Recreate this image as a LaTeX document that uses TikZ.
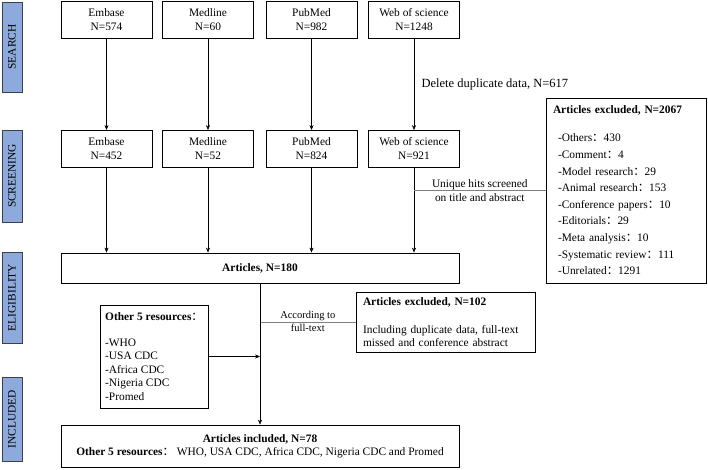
\documentclass[tikz,border=0pt]{standalone}
\usepackage{fontspec}
\setmainfont{Liberation Serif}
\newfontfamily\cjk{Noto Sans CJK SC}
\usetikzlibrary{arrows.meta}
\usetikzlibrary{positioning}
\definecolor{stagefill}{HTML}{8EA9DB}
\definecolor{stageline}{HTML}{3A3F4A}
\newcommand{\fc}{{\cjk ：}}

\begin{document}
\begin{tikzpicture}[
    x=1pt, y=-1pt,
    font=\fontsize{11.4}{14}\selectfont,
    srcbox/.style={draw, thick, minimum width=91pt, minimum height=37pt, inner sep=0pt, align=center},
    stage/.style={draw=stageline, thick, fill=stagefill, minimum height=20pt, inner sep=0pt, rotate=90},
    wide/.style={draw, thick, minimum width=398pt, inner sep=0pt, align=center},
    listbox/.style={draw, thick, inner xsep=7pt, inner ysep=0pt, align=left},
    side/.style={draw=gray, thin},
    >={Stealth[length=5pt, width=4pt]}
]
\useasboundingbox (0,0) rectangle (708,470);

% --- Stage bars ---
\node[stage, minimum width=90pt] (sS) at (12,47) {SEARCH};
\node[stage, minimum width=92pt] (sC) at (12,176) {SCREENING};
\node[stage, minimum width=91pt] (sE) at (12,297.5) {ELIGIBILITY};
\node[stage, minimum width=84pt] (sI) at (12,419) {INCLUDED};

% --- Search boxes ---
\node[srcbox] (a1) at (106.5,20) {Embase\\N=574};
\node[srcbox] (b1) at (208,20) {Medline\\N=60};
\node[srcbox] (c1) at (311.5,20) {PubMed\\N=982};
\node[srcbox] (d1) at (414,20) {Web of science\\N=1248};

% --- Screening boxes ---
\node[srcbox] (a2) at (106.5,149) {Embase\\N=452};
\node[srcbox] (b2) at (208,149) {Medline\\N=52};
\node[srcbox] (c2) at (311.5,149) {PubMed\\N=824};
\node[srcbox] (d2) at (414,149) {Web of science\\N=921};

% --- Eligibility and included ---
\node[wide, minimum height=30pt] (art) at (260,268) {\textbf{Articles, N=180}};
\node[wide, minimum height=42pt] (inc) at (260,446)
    {\textbf{Articles included, N=78}\\[-1pt]
     \textbf{Other 5 resources}\fc{} WHO, USA CDC, Africa CDC, Nigeria CDC and Promed};

% --- Excluded boxes ---
\node[listbox, minimum width=160pt, minimum height=185pt, text width=146pt] (exA) at (626,190.5)
    {\textbf{Articles excluded, N=2067}\\[14pt]
     \hspace*{5pt}-Others\fc 430\\[2.6pt]
     \hspace*{5pt}-Comment\fc 4\\[2.6pt]
     \hspace*{5pt}-Model research\fc 29\\[2.6pt]
     \hspace*{5pt}-Animal research\fc 153\\[2.6pt]
     \hspace*{5pt}-Conference papers\fc 10\\[2.6pt]
     \hspace*{5pt}-Editorials\fc 29\\[2.6pt]
     \hspace*{5pt}-Meta analysis\fc 10\\[2.6pt]
     \hspace*{5pt}-Systematic review\fc 111\\[2.6pt]
     \hspace*{5pt}-Unrelated\fc 1291};
\node[listbox, minimum width=179pt, minimum height=60pt, text width=165pt] (exB) at (445.5,322)
    {\textbf{Articles excluded, N=102}\\[14pt]
     Including duplicate data, full-text\\[-1pt]
     missed and conference abstract};
\node[listbox, inner xsep=4pt, minimum width=108pt, minimum height=103pt] (oth) at (154,356.5)
    {\textbf{Other 5 resources}\fc\\[12pt]
     -WHO\\[-0.5pt] -USA CDC\\[-0.5pt] -Africa CDC\\[-0.5pt] -Nigeria CDC\\[-0.5pt] -Promed};

% --- Search to screening ---
\foreach \s in {a,b,c}
    \draw[->] (\s1.south) -- (\s2.north);
\draw[->] (d1.south) -- (d2.north)
    node[midway, right=4pt, font=\fontsize{12.5}{14}\selectfont] {Delete duplicate data, N=617};

% --- Screening to articles ---
\foreach \s in {a,b,c,d}
    \draw[->] (\s2.south) -- (\s2.south |- art.north);

% --- Exclusion branches ---
\draw[side] (d2.south |- exA.west) -- (exA.west)
    node[midway, black, align=center] {Unique hits screened\\on title and abstract};
\draw[side] (art.south |- exB.west) -- (exB.west)
    node[midway, black, align=center, font=\fontsize{10.5}{13}\selectfont, yshift=1pt] {According to\\full-text};

% --- Articles to included ---
\draw[->] (art.south) -- (art.south |- inc.north);
\draw[->] (oth.east) -- (oth.east -| art.south);

\end{tikzpicture}
\end{document}
